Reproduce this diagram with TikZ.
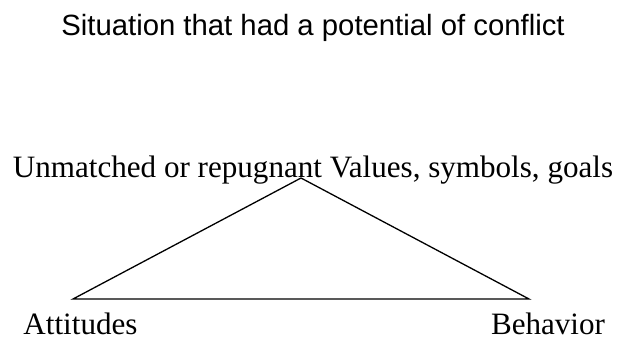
\documentclass[tikz,border=0pt]{standalone}
\usepackage{fontspec}
\setmainfont{Liberation Serif}
\newfontfamily\arialfont{Liberation Sans}
\usetikzlibrary{calc}

\begin{document}
\begin{tikzpicture}[x=1pt,y=-1pt,line width=1.3pt,
  label/.style={inner sep=0pt,anchor=base,font=\fontsize{31.1}{34}\selectfont},
  headline/.style={inner sep=0pt,anchor=base,font=\arialfont\fontsize{29.3}{32}\selectfont}]
\useasboundingbox (0,0) rectangle (620,340);
\node[headline] (title) at (313,35) {Situation that had a potential of conflict};
\node[label] (values) at (313,177) {Unmatched or repugnant Values, symbols, goals};
\node[label,text depth=0pt] (attitudes) at (80.5,334) {Attitudes};
\node[label,text depth=0pt] (behavior) at (548,334) {Behavior};
\coordinate (top) at (301,178);
\coordinate (left) at (73,299);
\coordinate (right) at (529,299);
\draw[line join=miter] (top) -- (right) -- (left) -- cycle;
\end{tikzpicture}
\end{document}
